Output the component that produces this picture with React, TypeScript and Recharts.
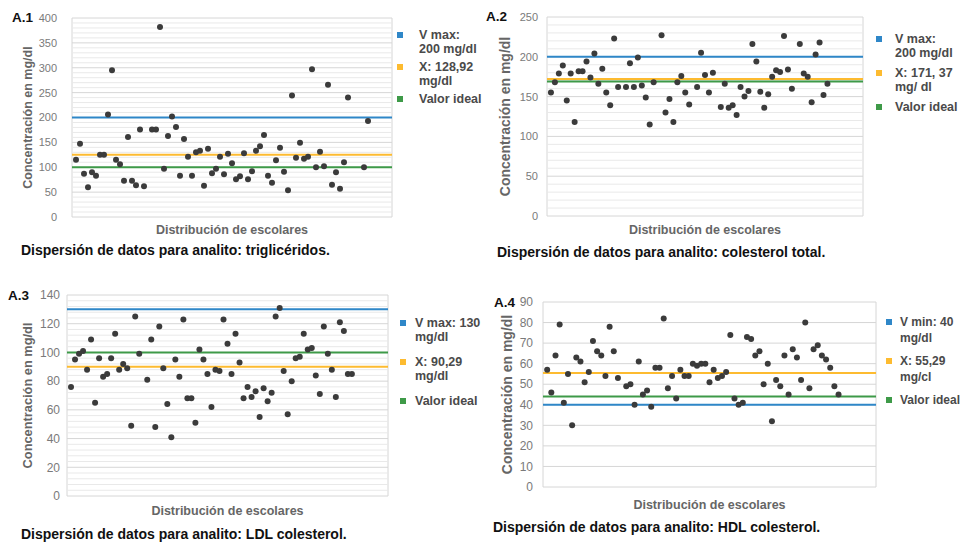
import React from 'react';
import { ScatterChart, Scatter, XAxis, YAxis, CartesianGrid, ReferenceLine } from 'recharts';

const FONT = '"Liberation Sans", Arial, sans-serif';
const LINE_COLORS = ['#2f87c8', '#fdbb30', '#3e9a48'];

// posición del escolar en la distribución (eje X sin rótulos)
const escolaresTicks = [0, 20, 40, 60, 80];

// A.1 triglicéridos en mg/dl (null = sin punto en esa posición)
const trigliceridos = [
  115, 147, 87, 60, 90, 83, 125, 125, 206, 295,
  115, 106, 73, 161, 73, 64, 176, 62, null, 176,
  176, 382, 97, 163, 202, 181, 83, 157, 121, 83,
  130, 133, 63, 137, 88, 97, 121, 86, 127, 108,
  76, 82, 128, 76, 92, 133, 142, 165, 83, 69,
  114, 139, 91, 54, 244, 119, 149, 117, 121, 297,
  100, 131, 102, 266, 65, 90, 57, 110, 240, null,
  null, null, 100, 193,
];
const trigTicks = [0, 50, 100, 150, 200, 250, 300, 350, 400];
const trigLineas = [200, 125, 100]; // V max, media, valor ideal
const trigLeyenda = [['V max:', '200 mg/dl'], ['X: 128,92', 'mg/dl'], ['Valor ideal']];

// A.2 colesterol total en mg/dl
const colesterolTotal = [
  155, 168, 179, 189, 145, 179, 118, 182, 182, 194,
  174, 204, 166, 185, 155, 139, 223, 162, null, 162,
  192, 162, 199, 164, 149, 115, 168, null, 227, 130,
  147, 118, 168, 176, 155, 140, null, 162, 205, 177,
  155, 180, null, 137, 166, 136, 139, 127, 162, 150,
  157, 216, 194, 156, 136, 153, 175, 183, 181, 226,
  184, 160, null, 216, 179, 175, 143, 203, 218, 152,
  166,
];
const ctTicks = [0, 50, 100, 150, 200, 250];
const ctLineas = [200, 172, 169];
const ctLeyenda = [['V max:', '200 mg/dl'], ['X: 171, 37', 'mg/ dl'], ['Valor ideal']];

// A.3 LDL colesterol en mg/dl
const ldl = [
  76, 95, 99, 101, 88, 109, 65, 96, 83, 85,
  96, 113, 88, 92, 89, 49, 125, 99, null, 81,
  109, 48, 118, 89, 64, 41, 95, 83, 123, 68,
  68, 51, 102, 95, 85, 62, 88, 87, 123, 106,
  85, 113, 93, 68, 76, 69, 73, 55, 75, 66,
  72, 125, 131, 87, 57, 80, 96, 97, 113, 102,
  103, 84, 71, 118, 99, 88, 69, 121, 115, 85,
  85,
];
const ldlTicks = [0, 20, 40, 60, 80, 100, 120, 140];
const ldlLineas = [130, 90, 100];
const ldlLeyenda = [['V max: 130', 'mg/dl'], ['X: 90,29', 'mg/dl'], ['Valor ideal']];

// A.4 HDL colesterol en mg/dl
const hdl = [
  57, 46, 64, 79, 41, 55, 30, 63, 61, 51,
  56, 71, 66, 64, 54, 78, 66, 53, null, 49,
  50, 40, 61, 45, 47, 39, 58, 58, 82, 48,
  54, 43, 57, 54, 54, 60, 59, 60, 60, 51,
  57, 53, 54, 56, 74, 43, 40, 41, 73, 72,
  64, 66, 50, 60, 32, 52, 49, 64, 45, 67,
  63, 52, 80, 48, 67, 69, 64, 62, 58, 49,
  45,
];
const hdlTicks = [0, 10, 20, 30, 40, 50, 60, 70, 80, 90];
const hdlLineas = [40, 55.5, 44];
const hdlLeyenda = [['V min: 40', 'mg/dl'], ['X: 55,29', 'mg/cl'], ['Valor ideal']];

const paneles = [
  {
    title: 'A.1', values: trigliceridos, ticks: trigTicks, lines: trigLineas, legend: trigLeyenda,
    caption: 'Dispersión de datos para analito: triglicéridos.',
    plot: { l: 72, r: 392, t: 18, b: 217 }, yLabelX: 28, xLabelY: 230, tickGap: 15, tickSize: 11,
    yLabelSize: 12.5, minorStep: 10,
    titlePos: { x: 12, y: 10 }, captionPos: { x: 21, y: 242 },
    leg: { x: 397, y: 28, lh: 14, gap: 4, mGap: 16, size: 12.5 },
  },
  {
    title: 'A.2', values: colesterolTotal, ticks: ctTicks, lines: ctLineas, legend: ctLeyenda,
    caption: 'Dispersión de datos para analito: colesterol total.',
    plot: { l: 547, r: 863, t: 17, b: 216 }, yLabelX: 505, xLabelY: 230, tickGap: 9, tickSize: 11,
    yLabelSize: 14, minorStep: 10,
    titlePos: { x: 486, y: 9 }, captionPos: { x: 497, y: 244 },
    leg: { x: 876, y: 32, lh: 14, gap: 6, mGap: 13, size: 12.5 },
  },
  {
    title: 'A.3', values: ldl, ticks: ldlTicks, lines: ldlLineas, legend: ldlLeyenda,
    caption: 'Dispersión de datos para analito: LDL colesterol.',
    plot: { l: 67, r: 388, t: 295, b: 496 }, yLabelX: 27, xLabelY: 511, tickGap: 7, tickSize: 12,
    yLabelSize: 12.8, minorStep: 4,
    titlePos: { x: 8, y: 288 }, captionPos: { x: 21, y: 526 },
    leg: { x: 400, y: 316, lh: 14, gap: 11, mGap: 9, size: 12.5 },
  },
  {
    title: 'A.4', values: hdl, ticks: hdlTicks, lines: hdlLineas, legend: hdlLeyenda,
    caption: 'Dispersión de datos para analito: HDL colesterol.',
    plot: { l: 543, r: 876, t: 302, b: 487 }, yLabelX: 507, xLabelY: 505, tickGap: 10, tickSize: 12,
    yLabelSize: 14, minorStep: 0,
    titlePos: { x: 494, y: 295 }, captionPos: { x: 493, y: 519 },
    leg: { x: 886, y: 314, lh: 16, gap: 7, mGap: 8, size: 12 },
  },
];

const Dot = (props: any) => <circle cx={props.cx} cy={props.cy} r={3} fill="#3b3b3b" />;

function Panel({ cfg }: { cfg: any }) {
  const { plot } = cfg;
  const yW = 2 * (plot.l - cfg.yLabelX);
  const xH = 2 * (cfg.xLabelY - plot.b);
  const top = 6;
  const right = 4;
  const width = yW + plot.r - plot.l + right;
  const height = top + plot.b - plot.t + xH;
  const data = cfg.values
    .map((v: number | null, i: number) => (v == null ? null : { x: i + 1, y: v }))
    .filter(Boolean);
  const yMax = cfg.ticks[cfg.ticks.length - 1];
  const minor: number[] = [];
  if (cfg.minorStep) {
    for (let v = cfg.minorStep; v < yMax; v += cfg.minorStep) {
      if (!cfg.ticks.includes(v)) minor.push(v);
    }
  }

  return (
    <>
      <div style={{ position: 'absolute', left: plot.l - yW, top: plot.t - top }}>
        <ScatterChart width={width} height={height} margin={{ top, right, bottom: 0, left: 0 }}>
          {minor.map((v) => (
            <ReferenceLine key={'m' + v} y={v} stroke="#e9e9e9" />
          ))}
          <CartesianGrid stroke="#d6d6d6" />
          <XAxis
            type="number"
            dataKey="x"
            domain={[0, 80]}
            ticks={escolaresTicks}
            tick={false}
            tickLine={false}
            axisLine={false}
            height={xH}
            label={{
              value: 'Distribución de escolares',
              position: 'center',
              fill: '#666666',
              fontSize: 12.5,
              fontWeight: 'bold',
              fontFamily: FONT,
            }}
          />
          <YAxis
            type="number"
            dataKey="y"
            domain={[0, yMax]}
            ticks={cfg.ticks}
            interval={0}
            width={yW}
            tickLine={false}
            axisLine={false}
            tickSize={0}
            tickMargin={cfg.tickGap}
            tick={{ fill: '#7a7a7a', fontSize: cfg.tickSize, fontFamily: FONT }}
            label={{
              value: 'Concentración en mg/dl',
              angle: -90,
              position: 'center',
              fill: '#666666',
              fontSize: cfg.yLabelSize,
              fontWeight: 'bold',
              fontFamily: FONT,
            }}
          />
          {cfg.lines.map((v: number, i: number) => (
            <ReferenceLine key={'l' + i} y={v} stroke={LINE_COLORS[i]} strokeWidth={2} />
          ))}
          <Scatter data={data} isAnimationActive={false} shape={Dot} />
        </ScatterChart>
      </div>

      <div
        style={{
          position: 'absolute',
          left: cfg.titlePos.x,
          top: cfg.titlePos.y,
          fontFamily: FONT,
          fontWeight: 'bold',
          fontSize: 13.5,
          color: '#111',
        }}
      >
        {cfg.title}
      </div>

      <div
        style={{
          position: 'absolute',
          left: cfg.leg.x,
          top: cfg.leg.y,
          fontFamily: FONT,
          fontWeight: 'bold',
          fontSize: cfg.leg.size,
          lineHeight: cfg.leg.lh + 'px',
          color: '#4a4a4a',
          whiteSpace: 'nowrap',
        }}
      >
        {cfg.legend.map((lines: string[], i: number) => (
          <div key={i} style={{ display: 'flex', marginBottom: cfg.leg.gap }}>
            <span
              style={{
                width: 6,
                height: 6,
                flex: 'none',
                background: LINE_COLORS[i],
                marginTop: (cfg.leg.lh - 6) / 2,
                marginRight: cfg.leg.mGap,
              }}
            />
            <div>
              {lines.map((t) => (
                <div key={t}>{t}</div>
              ))}
            </div>
          </div>
        ))}
      </div>

      <div
        style={{
          position: 'absolute',
          left: cfg.captionPos.x,
          top: cfg.captionPos.y,
          fontFamily: FONT,
          fontWeight: 'bold',
          fontSize: 14,
          color: '#111',
          whiteSpace: 'nowrap',
        }}
      >
        {cfg.caption}
      </div>
    </>
  );
}

export default function App() {
  return (
    <div
      style={{
        position: 'absolute',
        left: 0,
        top: 0,
        width: 964,
        height: 544,
        background: '#fff',
        overflow: 'hidden',
      }}
    >
      {paneles.map((p) => (
        <Panel key={p.title} cfg={p} />
      ))}
    </div>
  );
}
